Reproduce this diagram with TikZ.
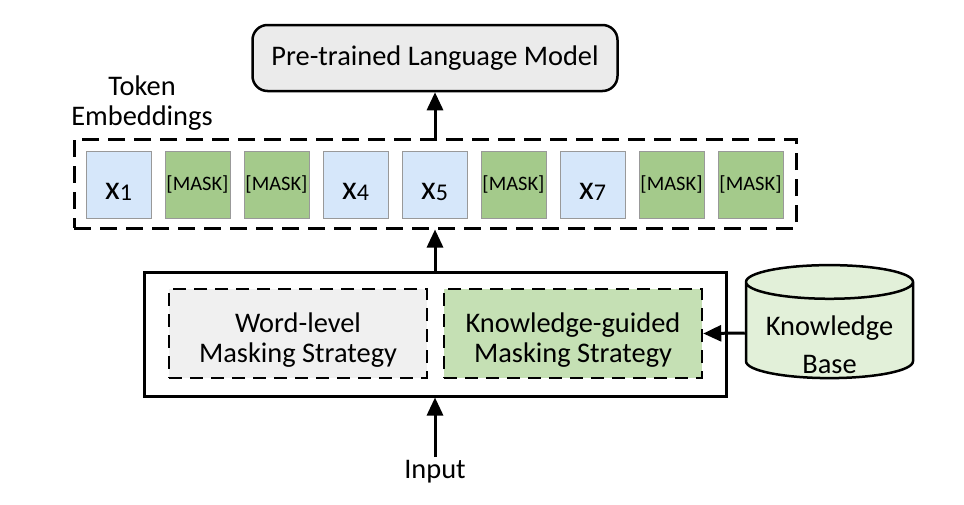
\documentclass[tikz,border=0pt]{standalone}
\usepackage{fontspec}
\setmainfont{Carlito}
\usetikzlibrary{shapes.geometric,arrows.meta}

\definecolor{tokblue}{HTML}{D6E7FA}
\definecolor{maskgreen}{HTML}{A4CA8B}
\definecolor{kggreen}{HTML}{C5E0B4}
\definecolor{kbgreen}{HTML}{E2F0D9}
\definecolor{plmgray}{HTML}{EBEBEB}
\definecolor{wordgray}{HTML}{F0F0F0}

\newcommand{\tokx}[1]{\fontsize{34}{34}\selectfont x\raisebox{-1pt}{\fontsize{24}{24}\selectfont #1}}

\tikzset{
  lbl/.style={font=\fontsize{28.4}{30}\selectfont, align=center},
  tokbox/.style={draw=gray!80, line width=1pt, minimum width=65pt, minimum height=67pt, inner sep=0pt},
  xtok/.style={tokbox, fill=tokblue, text height=29pt, text depth=0pt},
  masktok/.style={tokbox, fill=maskgreen, font=\fontsize{20.5}{22}\selectfont},
  dashbox/.style={draw, dash pattern=on 13pt off 8pt, line width=2.5pt, minimum width=258pt, minimum height=89pt, lbl, text height=62pt},
  arr/.style={-{Triangle[length=18pt,width=16pt]}, line width=3pt},
}

\begin{document}
\begin{tikzpicture}[x=1pt, y=-1pt]
        \useasboundingbox (0,0) rectangle (964,504);

        % Language model on top
        \node[draw, rounded corners=15pt, fill=plmgray, line width=2.5pt, minimum width=365pt, minimum height=66pt, lbl] (plm) at (435,58) {Pre-trained Language Model};

        % Token embeddings
        \node[draw, dash pattern=on 17pt off 9pt, line width=3pt, minimum width=722pt, minimum height=89pt] (emb) at (435,183.5) {};
        \node[lbl] (emblabel) at (142,103) {Token\\Embeddings};

        \foreach \i in {1,4,5,7} {
            \node[xtok] (tok\i) at ({118.5+(\i-1)*79},184.5) {\tokx{\i}};
        }
        \foreach \i in {2,3,6,8,9} {
            \node[masktok] (tok\i) at ({118.5+(\i-1)*79},184.5) {[MASK]};
        }

        % Masking strategies
        \node[draw, line width=3pt, minimum width=582pt, minimum height=124pt] (strategy) at (435,334) {};
        \node[dashbox, fill=wordgray] (word) at (298,333.5) {Word-level\\Masking Strategy};
        \node[dashbox, fill=kggreen] (kg) at (573,333.5) {Knowledge-guided\\Masking Strategy};

        % Knowledge base
        \node[cylinder, shape border rotate=90, aspect=0.25, draw, fill=kbgreen, line width=2.5pt, minimum width=167pt, minimum height=113pt,
              text width=128pt, text height=20pt, text depth=0pt,
              label={[lbl, font=\fontsize{28.4}{38}\selectfont, yshift=-12pt]center:Knowledge\\Base}] (kb) at (829.5,333) {};

        \node[lbl] (input) at (435,472) {Input};

        % Arrows
        \draw[arr] (input) -- (strategy);
        \draw[arr] (strategy.north) -- (strategy.north |- emb.south);
        \draw[arr] (emb.north -| plm.south) -- (plm.south);
        \draw[arr] (kb.west) -- (kg.east);
    \end{tikzpicture}
\end{document}
